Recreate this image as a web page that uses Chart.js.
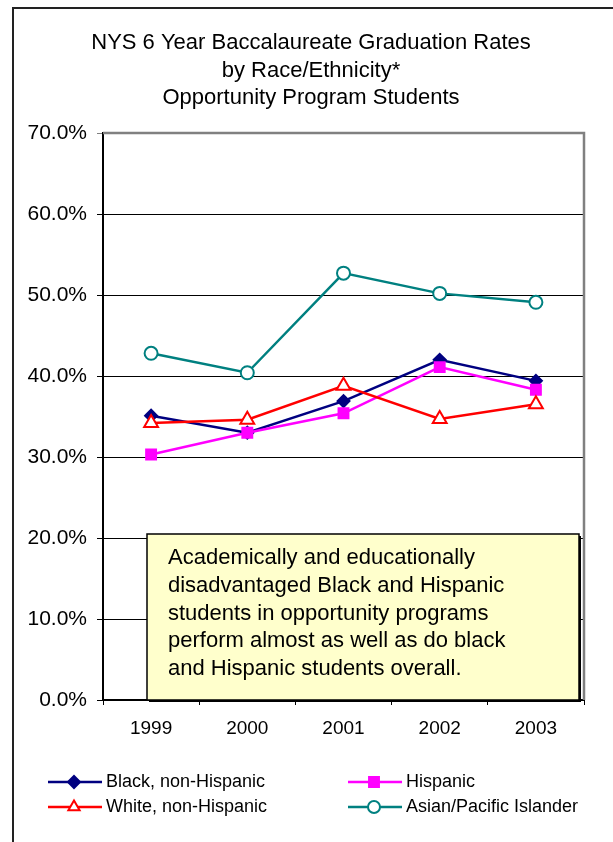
<!DOCTYPE html>
<html>
<head>
<meta charset="utf-8">
<script src="https://cdn.jsdelivr.net/npm/chart.js@4/dist/chart.umd.min.js"></script>
<style>
  html, body { margin: 0; padding: 0; background: #fff; }
  canvas { display: block; }
</style>
</head>
<body>
<canvas id="gradChart" width="613" height="842"></canvas>
<script>
// Graduation rates (%) by cohort year
const years = ['1999', '2000', '2001', '2002', '2003'];
const blackRates = [35.1, 33.0, 36.9, 42.0, 39.4];
const hispanicRates = [30.3, 33.0, 35.4, 41.1, 38.3];
const whiteRates = [34.2, 34.6, 38.8, 34.7, 36.5];
const asianRates = [42.8, 40.4, 52.7, 50.2, 49.1];

const titleLines = [
    'NYS 6 Year Baccalaureate Graduation Rates',
    'by Race/Ethnicity*',
    'Opportunity Program Students'
];
const noteLines = [
    'Academically and educationally',
    'disadvantaged Black and Hispanic',
    'students in opportunity programs',
    'perform almost as well as do black',
    'and Hispanic students overall.'
];

const FONT = '"Liberation Sans", Arial, sans-serif';

// outer frame, title, note box and the two-column legend
const decorations = {
    id: 'decorations',
    beforeDraw(chart) {
        const ctx = chart.ctx;
        ctx.save();
        ctx.strokeStyle = '#222';
        ctx.lineWidth = 2;
        ctx.beginPath();
        ctx.moveTo(13, 850);
        ctx.lineTo(13, 8);
        ctx.lineTo(620, 8);
        ctx.stroke();

        ctx.fillStyle = '#000';
        ctx.font = '22px ' + FONT;
        ctx.textAlign = 'center';
        ctx.textBaseline = 'middle';
        titleLines.forEach((t, i) => ctx.fillText(t, 311, 43 + i * 27.5));
        ctx.restore();
    },
    afterDraw(chart) {
        const ctx = chart.ctx;
        const area = chart.chartArea;
        ctx.save();

        // grey top/right edges of the plot area
        ctx.strokeStyle = '#808080';
        ctx.lineWidth = 2.5;
        ctx.beginPath();
        ctx.moveTo(area.left, area.top);
        ctx.lineTo(area.right, area.top);
        ctx.lineTo(area.right, area.bottom);
        ctx.stroke();

        // note box with drop shadow
        const bx = 147, by = 534, bw = 432, bh = 166;
        ctx.fillStyle = '#000';
        ctx.fillRect(bx + 2, by + 2, bw, bh);
        ctx.fillStyle = '#FFFFCC';
        ctx.fillRect(bx, by, bw, bh);
        ctx.strokeStyle = '#000';
        ctx.lineWidth = 1.5;
        ctx.strokeRect(bx, by, bw, bh);
        ctx.fillStyle = '#000';
        ctx.font = '22px ' + FONT;
        ctx.textAlign = 'left';
        ctx.textBaseline = 'middle';
        noteLines.forEach((t, i) => ctx.fillText(t, 168, 558 + i * 27.8));

        // legend
        const spots = [[48, 782], [348, 782], [48, 807], [348, 807]];
        chart.data.datasets.forEach((ds, i) => {
            const [x, y] = spots[i];
            ctx.strokeStyle = ds.borderColor;
            ctx.lineWidth = 2.5;
            ctx.beginPath();
            ctx.moveTo(x, y);
            ctx.lineTo(x + 54, y);
            ctx.stroke();
            ctx.fillStyle = ds.pointBackgroundColor;
            ctx.strokeStyle = ds.pointBorderColor;
            ctx.lineWidth = ds.pointBorderWidth;
            Chart.helpers.drawPoint(ctx, {
                pointStyle: ds.pointStyle,
                radius: ds.legendRadius,
                borderWidth: ds.pointBorderWidth,
                rotation: 0
            }, x + 26, y);
            ctx.fillStyle = '#000';
            ctx.font = '18px ' + FONT;
            ctx.textAlign = 'left';
            ctx.textBaseline = 'middle';
            ctx.fillText(ds.label, x + 58, y);
        });
        ctx.restore();
    }
};

function series(label, data, color, style, fill, radius, legendRadius, order) {
    return {
        label,
        data,
        borderColor: color,
        borderWidth: 2.5,
        pointStyle: style,
        pointBackgroundColor: fill,
        pointBorderColor: color,
        pointBorderWidth: 2,
        pointRadius: radius,
        legendRadius,
        order,
        tension: 0,
        fill: false
    };
}

new Chart(document.getElementById('gradChart'), {
    type: 'line',
    data: {
        labels: years,
        datasets: [
            series('Black, non-Hispanic', blackRates, '#000080', 'rectRot', '#000080', 6, 6, 3),
            series('Hispanic', hispanicRates, '#FF00FF', 'rect', '#FF00FF', 7, 7, 2),
            series('White, non-Hispanic', whiteRates, '#FF0000', 'triangle', '#FFFFFF', 8, 6.5, 1),
            series('Asian/Pacific Islander', asianRates, '#008080', 'circle', '#FFFFFF', 6.5, 6, 0)
        ]
    },
    options: {
        responsive: false,
        animation: false,
        layout: { padding: { left: 0, right: 29, top: 133, bottom: 92 } },
        plugins: {
            legend: { display: false },
            title: { display: false },
            tooltip: { enabled: false }
        },
        scales: {
            x: {
                offset: true,
                afterFit(scale) { scale.height = 50; },
                grid: {
                    offset: true,
                    drawOnChartArea: false,
                    drawTicks: true,
                    tickLength: 5,
                    color: '#000'
                },
                border: { color: '#000', width: 2 },
                ticks: { color: '#000', padding: 12, font: { family: FONT, size: 19 } }
            },
            y: {
                min: 0,
                max: 70,
                afterFit(scale) { scale.width = 103; },
                grid: {
                    color: c => (c.tick && c.tick.value === 70 ? '#808080' : '#000'),
                    lineWidth: 1,
                    tickLength: 6
                },
                border: { color: '#000', width: 2 },
                ticks: {
                    stepSize: 10,
                    color: '#000',
                    padding: 10,
                    font: { family: FONT, size: 21 },
                    callback: v => v.toFixed(1) + '%'
                }
            }
        }
    },
    plugins: [decorations]
});
</script>
</body>
</html>
